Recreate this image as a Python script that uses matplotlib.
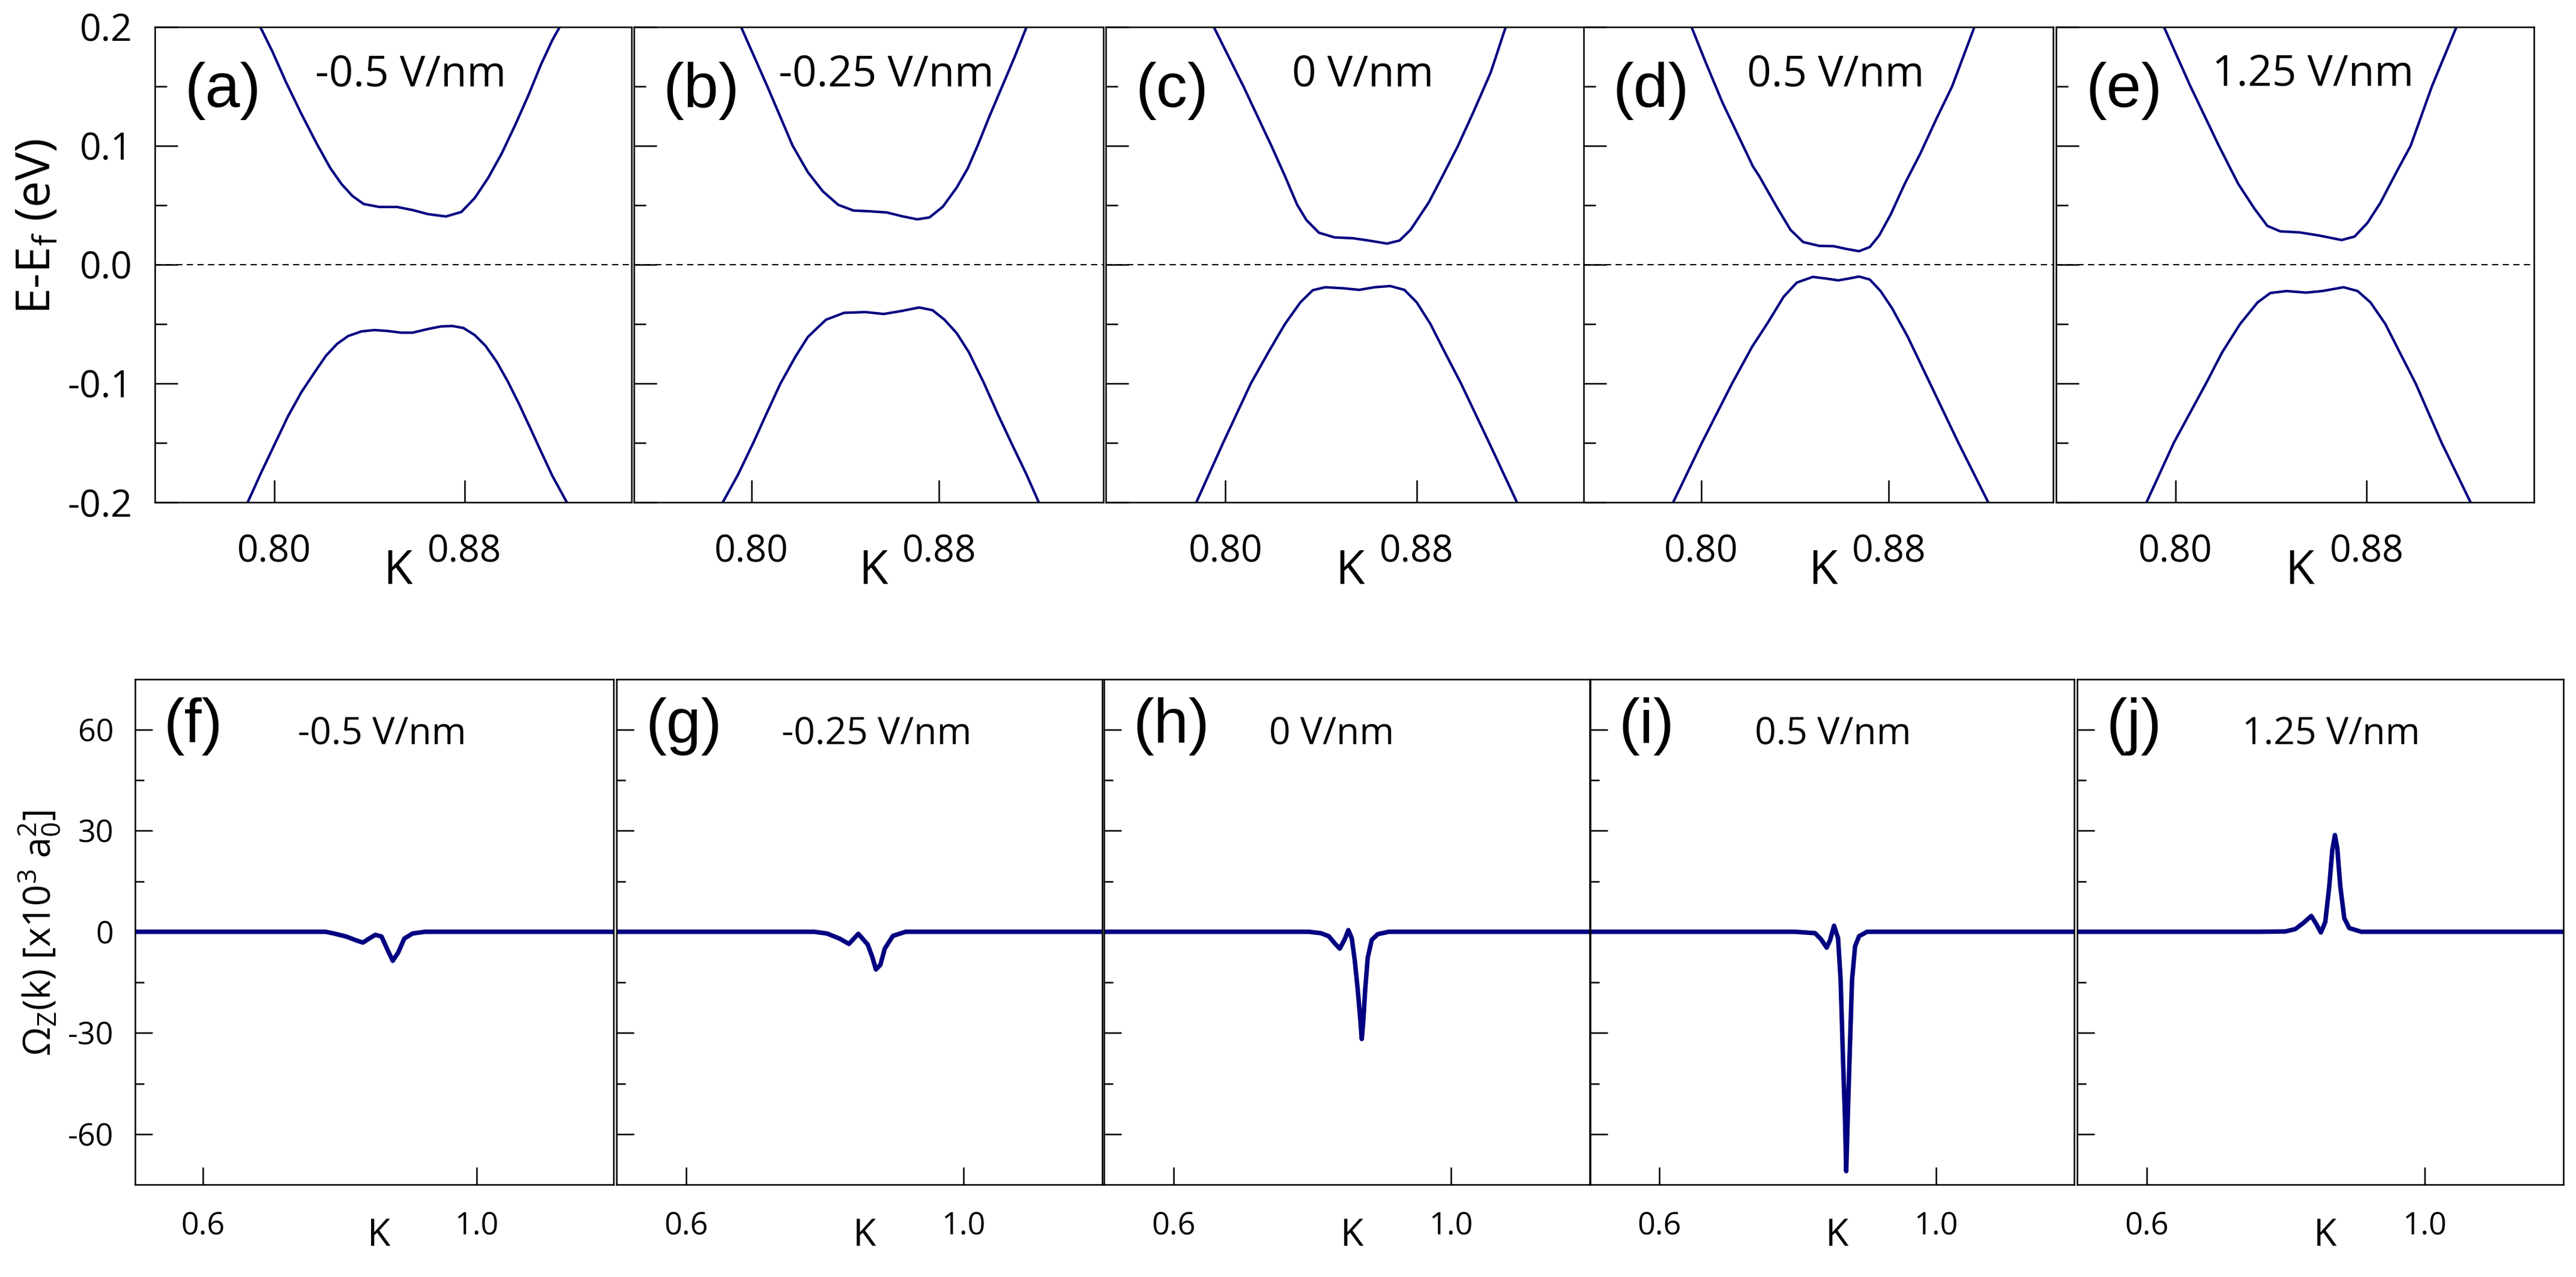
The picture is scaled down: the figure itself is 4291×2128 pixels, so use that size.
import matplotlib
matplotlib.use('Agg')
import matplotlib.pyplot as plt
import matplotlib.transforms as mtransforms

plt.rcParams['font.family'] = ['Open Sans', 'DejaVu Sans']
plt.rcParams['mathtext.fontset'] = 'custom'
plt.rcParams['mathtext.rm'] = 'Open Sans'
plt.rcParams['mathtext.it'] = 'Open Sans:italic'

# ---- data ----
fields = ['-0.5 V/nm', '-0.25 V/nm', '0 V/nm', '0.5 V/nm', '1.25 V/nm']
top_letters = ['(a)', '(b)', '(c)', '(d)', '(e)']
bot_letters = ['(f)', '(g)', '(h)', '(i)', '(j)']

# band structure near K: conduction (cb) and valence (vb) bands, E - Ef in eV
cb_k_a = [0.7942, 0.7994, 0.8050, 0.8115, 0.8180, 0.8236, 0.8283, 0.8329, 0.8376, 0.8441, 0.8516, 0.8581,
          0.8646, 0.8721, 0.8786, 0.8842, 0.8898, 0.8954, 0.9010, 0.9066, 0.9121, 0.9168, 0.9199]
cb_e_a = [0.200, 0.1788, 0.1535, 0.1266, 0.1014, 0.0812, 0.0678, 0.0577, 0.0510, 0.0485, 0.0485, 0.0459,
          0.0425, 0.0405, 0.0443, 0.0560, 0.0728, 0.0930, 0.1166, 0.1418, 0.1687, 0.1889, 0.200]
vb_k_a = [0.7889, 0.7947, 0.8003, 0.8059, 0.8115, 0.8171, 0.8217, 0.8264, 0.8311, 0.8367, 0.8422, 0.8478,
          0.8534, 0.8581, 0.8646, 0.8702, 0.8749, 0.8795, 0.8842, 0.8888, 0.8935, 0.8982, 0.9028, 0.9075,
          0.9121, 0.9168, 0.9229]
vb_e_a = [-0.200, -0.1744, -0.1508, -0.1273, -0.1071, -0.0903, -0.0768, -0.0667, -0.0600, -0.0561, -0.0550,
          -0.0558, -0.0572, -0.0572, -0.0541, -0.0519, -0.0516, -0.0533, -0.0592, -0.0684, -0.0819, -0.0987,
          -0.1172, -0.1374, -0.1575, -0.1777, -0.200]

cb_k_b = [0.7956, 0.8068, 0.8176, 0.8241, 0.8305, 0.8370, 0.8435, 0.8500, 0.8577, 0.8642, 0.8707, 0.8759,
          0.8816, 0.8875, 0.8922, 0.8964, 0.9017, 0.9069, 0.9121, 0.9173]
cb_e_b = [0.200, 0.150, 0.100, 0.0777, 0.0616, 0.0503, 0.0455, 0.0449, 0.0439, 0.0407, 0.0381, 0.0397,
          0.0487, 0.0648, 0.0809, 0.100, 0.1259, 0.150, 0.1742, 0.200]
vb_k_b = [0.7878, 0.7943, 0.8008, 0.8065, 0.8124, 0.8189, 0.8241, 0.8318, 0.8396, 0.8487, 0.8564, 0.8642,
          0.8715, 0.8772, 0.8823, 0.8875, 0.8927, 0.8992, 0.9049, 0.9108, 0.9173, 0.9225]
vb_e_b = [-0.200, -0.1767, -0.150, -0.1252, -0.100, -0.0770, -0.0608, -0.0463, -0.0405, -0.0399, -0.0415,
          -0.0389, -0.0360, -0.0383, -0.0463, -0.0576, -0.0737, -0.100, -0.1252, -0.150, -0.1767, -0.200]

cb_k_c = [0.7951, 0.8075, 0.8192, 0.8249, 0.8300, 0.8339, 0.8391, 0.8456, 0.8533, 0.8598, 0.8676, 0.8728,
          0.8774, 0.8850, 0.8911, 0.8971, 0.9036, 0.9109, 0.9172]
cb_e_c = [0.200, 0.150, 0.100, 0.0744, 0.0503, 0.0374, 0.0268, 0.0229, 0.0222, 0.0203, 0.0177, 0.0203,
          0.0293, 0.0523, 0.0758, 0.0994, 0.1280, 0.1616, 0.200]
vb_k_c = [0.7878, 0.7990, 0.8106, 0.8184, 0.8249, 0.8313, 0.8365, 0.8417, 0.8494, 0.8559, 0.8624, 0.8689,
          0.8748, 0.8800, 0.8857, 0.8909, 0.8985, 0.9103, 0.9219]
vb_e_c = [-0.200, -0.150, -0.100, -0.0721, -0.0499, -0.0318, -0.0215, -0.0190, -0.0199, -0.0212, -0.0190,
          -0.0180, -0.0212, -0.0318, -0.0499, -0.0705, -0.100, -0.150, -0.200]

cb_k_d = [0.7959, 0.8020, 0.8091, 0.8152, 0.8221, 0.8248, 0.8322, 0.8381, 0.8435, 0.8503, 0.8565, 0.8619,
          0.8673, 0.8719, 0.8759, 0.8808, 0.8868, 0.8935, 0.9003, 0.9070, 0.9165]
cb_e_d = [0.200, 0.1700, 0.1364, 0.1112, 0.0826, 0.0744, 0.0487, 0.0293, 0.0190, 0.0158, 0.0155, 0.0132,
          0.0113, 0.0148, 0.0245, 0.0422, 0.0680, 0.0937, 0.1227, 0.150, 0.200]
vb_k_d = [0.7881, 0.8003, 0.8132, 0.8218, 0.8281, 0.8352, 0.8408, 0.8476, 0.8530, 0.8584, 0.8624, 0.8673,
          0.8719, 0.8765, 0.8814, 0.8881, 0.8976, 0.9097, 0.9224]
vb_e_d = [-0.200, -0.150, -0.100, -0.0689, -0.0499, -0.0270, -0.0151, -0.0103, -0.0116, -0.0132, -0.0119,
          -0.0100, -0.0125, -0.0222, -0.0367, -0.0608, -0.100, -0.150, -0.200]

cb_k_e = [0.7951, 0.8062, 0.8181, 0.8262, 0.8330, 0.8384, 0.8438, 0.8519, 0.8600, 0.8695, 0.8749, 0.8803,
          0.8857, 0.8924, 0.8984, 0.9073, 0.9176]
cb_e_e = [0.200, 0.150, 0.100, 0.0680, 0.0471, 0.0326, 0.0280, 0.0271, 0.0245, 0.0207, 0.0236, 0.0351,
          0.0519, 0.0777, 0.100, 0.150, 0.200]
vb_k_e = [0.7878, 0.7992, 0.8127, 0.8195, 0.8270, 0.8343, 0.8397, 0.8465, 0.8546, 0.8614, 0.8703, 0.8762,
          0.8816, 0.8878, 0.8938, 0.9005, 0.9114, 0.9235]
vb_e_e = [-0.200, -0.150, -0.100, -0.0737, -0.0499, -0.0318, -0.0238, -0.0222, -0.0235, -0.0222, -0.0190,
          -0.0222, -0.0318, -0.0499, -0.0737, -0.100, -0.150, -0.200]

# Berry curvature Omega_z(k), units of 10^3 a0^2
bc_k_f = [0.50, 0.779, 0.791, 0.809, 0.8245, 0.8336, 0.8427, 0.8517, 0.8608, 0.8699, 0.8772, 0.885, 0.8941,
          0.9062, 0.9244, 1.20]
bc_w_f = [0, 0, -0.5, -1.4, -2.6, -3.2, -2.0, -0.9, -1.4, -5.5, -8.6, -6.2, -2.0, -0.5, 0, 0]

bc_k_g = [0.50, 0.785, 0.8032, 0.8213, 0.8349, 0.8485, 0.8621, 0.8685, 0.8739, 0.8803, 0.8866, 0.8984,
          0.9166, 1.20]
bc_w_g = [0, 0, -0.5, -2.0, -3.6, -0.6, -3.8, -7.4, -11.2, -9.8, -5.0, -1.2, 0, 0]

bc_k_h = [0.50, 0.7951, 0.8124, 0.8239, 0.8325, 0.8398, 0.8470, 0.8522, 0.8571, 0.8614, 0.8658, 0.8695,
          0.8715, 0.8738, 0.8764, 0.8801, 0.8859, 0.8946, 0.9104, 1.20]
bc_w_h = [0, 0, -0.4, -1.3, -3.4, -5.0, -2.2, 0.5, -1.9, -8.4, -17.3, -26.2, -31.8, -26.2, -17.3, -7.7,
          -2.4, -0.7, 0, 0]

bc_k_i = [0.50, 0.7964, 0.8254, 0.8340, 0.8422, 0.8471, 0.8529, 0.8587, 0.8624, 0.8659, 0.8688, 0.8705,
          0.8726, 0.8752, 0.8789, 0.8833, 0.8891, 0.9006, 1.20]
bc_w_i = [0, 0, -0.4, -2.2, -4.7, -2.5, 1.8, -1.9, -14.3, -38.1, -55.9, -71.0, -55.9, -38.1, -14.3, -4.3,
          -1.3, 0, 0]

bc_k_j = [0.50, 0.7593, 0.7997, 0.8140, 0.8256, 0.8371, 0.8443, 0.8509, 0.8572, 0.8630, 0.8673, 0.8711,
          0.8745, 0.8788, 0.8846, 0.8918, 0.9091, 1.20]
bc_w_j = [0, 0, 0.1, 0.8, 2.6, 4.7, 2.3, -0.2, 2.9, 13.6, 24.2, 28.7, 24.8, 13.6, 4.0, 1.1, 0, 0]

bands = [(cb_k_a, cb_e_a, vb_k_a, vb_e_a), (cb_k_b, cb_e_b, vb_k_b, vb_e_b),
         (cb_k_c, cb_e_c, vb_k_c, vb_e_c), (cb_k_d, cb_e_d, vb_k_d, vb_e_d),
         (cb_k_e, cb_e_e, vb_k_e, vb_e_e)]
berry = [(bc_k_f, bc_w_f), (bc_k_g, bc_w_g), (bc_k_h, bc_w_h), (bc_k_i, bc_w_i), (bc_k_j, bc_w_j)]

# ---- layout (pixels of the 4291x2128 canvas) ----
W, H = 4291, 2128
top_left = [258, 1056, 1842, 2638, 3425]
top_right = [1052, 1838, 2639, 3420, 4221]
top_tb = (44.6, 837.4)
bot_left = [224.5, 1027, 1839, 2648.5, 3460]
bot_right = [1022, 1836, 2648, 3455, 4270]
bot_tb = (1131.5, 1974)

navy = '#000080'

fig = plt.figure(figsize=(W / 300, H / 300), dpi=300)


def add_px_axes(l, r, t, b):
    return fig.add_axes([l / W, 1 - b / H, (r - l) / W, (b - t) / H])


for i in range(5):
    ax = add_px_axes(top_left[i], top_right[i], *top_tb)
    cbk, cbe, vbk, vbe = bands[i]
    ax.plot(cbk, cbe, color=navy, lw=1.0)
    ax.plot(vbk, vbe, color=navy, lw=1.0)
    ax.axhline(0, color='black', lw=0.5, dashes=(5, 3.5))
    ax.set_xlim(0.75, 0.95)
    ax.set_ylim(-0.2, 0.2)
    ax.set_xticks([0.80, 0.88])
    ax.set_xticklabels(['0.80', '0.88'])
    ax.set_yticks([-0.2, -0.1, 0.0, 0.1, 0.2])
    ax.set_yticklabels(['-0.2', '-0.1', '0.0', '0.1', '0.2'])
    ax.set_yticks([-0.15, -0.05, 0.05, 0.15], minor=True)
    ax.tick_params(axis='both', which='major', direction='in', length=9, width=0.6, labelsize=15)
    ax.tick_params(axis='y', which='minor', direction='in', length=4.8, width=0.6)
    ax.tick_params(axis='x', pad=12.5)
    ax.tick_params(axis='y', pad=9)
    if i > 0:
        ax.tick_params(axis='y', labelleft=False)
    for sp in ax.spines.values():
        sp.set_linewidth(0.6)
    trans = mtransforms.blended_transform_factory(ax.transData, ax.transAxes)
    ax.text(0.852, -0.171, 'K', transform=trans, ha='center', va='baseline', fontsize=19)
    ax.text(0.062, 0.832, top_letters[i], transform=ax.transAxes, ha='left', va='baseline',
            fontsize=25, family='Liberation Sans')
    ax.text(0.537, 0.875, fields[i], transform=ax.transAxes, ha='center', va='baseline', fontsize=17)

for i in range(5):
    ax = add_px_axes(bot_left[i], bot_right[i], *bot_tb)
    bk, bw = berry[i]
    ax.plot(bk, bw, color=navy, lw=1.8)
    ax.set_xlim(0.5, 1.2)
    ax.set_ylim(-75, 75)
    ax.set_xticks([0.6, 1.0])
    ax.set_xticklabels(['0.6', '1.0'])
    ax.set_yticks([-60, -30, 0, 30, 60])
    ax.set_yticklabels(['-60', '-30', '0', '30', '60'])
    ax.set_yticks([-45, -15, 15, 45], minor=True)
    ax.tick_params(axis='both', which='major', direction='in', length=7, width=0.6, labelsize=12.5)
    ax.tick_params(axis='y', which='minor', direction='in', length=3.7, width=0.6)
    ax.tick_params(axis='x', pad=10.8)
    ax.tick_params(axis='y', pad=8.5)
    if i > 0:
        ax.tick_params(axis='y', labelleft=False)
    for sp in ax.spines.values():
        sp.set_linewidth(0.6)
    trans = mtransforms.blended_transform_factory(ax.transData, ax.transAxes)
    ax.text(0.857, -0.121, 'K', transform=trans, ha='center', va='baseline', fontsize=15)
    ax.text(0.06, 0.875, bot_letters[i], transform=ax.transAxes, ha='left', va='baseline',
            fontsize=25, family='Liberation Sans')
    ax.text(0.34, 0.871, fields[i], transform=ax.transAxes, ha='left', va='baseline', fontsize=15)

fig.text(63 / W, 1 - 378 / H, r'E-E$_\mathrm{f}$ (eV)', rotation=90, ha='center', va='center', fontsize=19)
fig.text(65 / W, 1 - 1555 / H, r'$\Omega_\mathrm{Z}$(k) [x10$^\mathrm{3}$ a$_\mathrm{0}^\mathrm{2}$]',
         rotation=90, ha='center', va='center', fontsize=15)

fig.savefig('out.png', dpi=300)
